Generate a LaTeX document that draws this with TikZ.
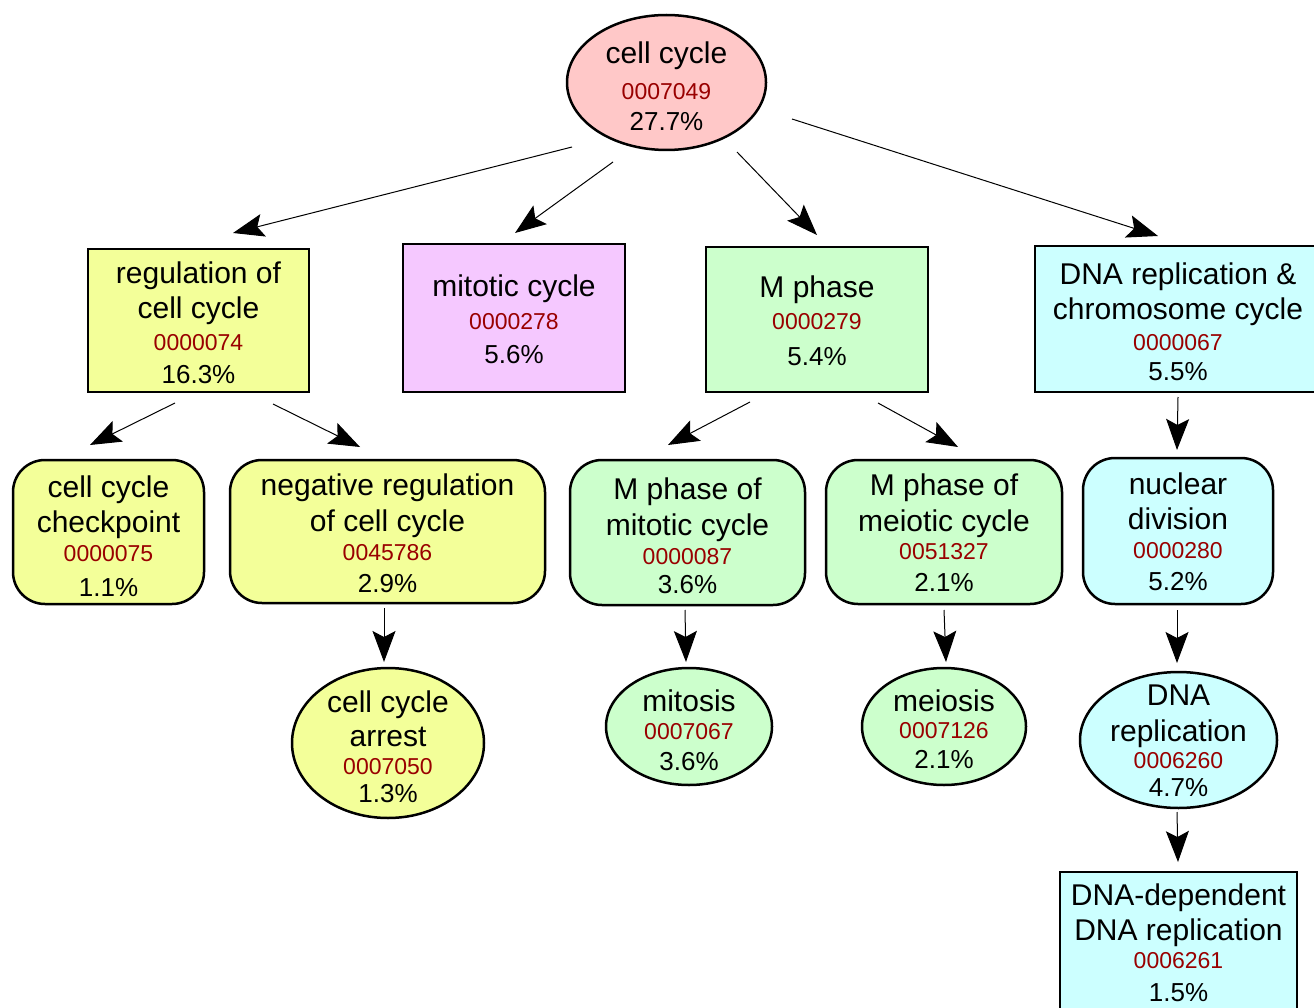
\documentclass[tikz,border=0pt]{standalone}
\usepackage{fontspec}
\setmainfont{Liberation Sans}
\usetikzlibrary{shapes.geometric,arrows.meta,calc}
\definecolor{pinkc}{HTML}{FFC8C8}
\definecolor{yellowc}{HTML}{F3FF99}
\definecolor{violetc}{HTML}{F5C8FF}
\definecolor{greenc}{HTML}{CCFFCC}
\definecolor{cyanc}{HTML}{CCFFFF}
\definecolor{idcol}{HTML}{990000}
\newcommand\idf{\fontsize{23}{28}\selectfont\color{idcol}}
\newcommand\pcf{\fontsize{26}{30}\selectfont}
\newcommand\zbox[2]{\smash{\makebox[0pt]{\raisebox{#1pt}{\begin{tabular}[t]{@{}c@{}}#2\end{tabular}}}}}
\tikzset{
  gonode/.style={draw=black, line width=2.5, inner sep=0pt, outer sep=0pt,
    font=\fontsize{30}{35}\selectfont},
  boxn/.style={gonode, rectangle},
  rboxn/.style={gonode, rectangle, rounded corners=32},
  elln/.style={gonode, ellipse},
  edge/.style={line width=1, draw=black,
    -{Stealth[length=31, width=23, inset=6]}},
}
\begin{document}
\begin{tikzpicture}[x=1pt, y=-1pt]
\useasboundingbox (0,0) rectangle (1314,1008);
% nodes
\node[elln, fill=pinkc, minimum width=199, minimum height=135] (cc) at (666.5,82.5)
  {\zbox{18.5}{cell cycle\\[1pt]{\idf 0007049}\\[-4pt]{\pcf 27.7\%}}};
\node[boxn, fill=yellowc, minimum width=221, minimum height=143] (reg) at (198.5,320.5)
  {\zbox{37.5}{regulation of\\cell cycle\\[-2.7pt]{\idf 0000074}\\[-1.8pt]{\pcf 16.3\%}}};
\node[boxn, fill=violetc, minimum width=222, minimum height=148] (mit) at (514,318)
  {\zbox{21}{mitotic cycle\\[-2.7pt]{\idf 0000278}\\[-0.8pt]{\pcf 5.6\%}}};
\node[boxn, fill=greenc, minimum width=222, minimum height=145] (mph) at (817,319.5)
  {\zbox{21.5}{M phase\\[-3.7pt]{\idf 0000279}\\[1.2pt]{\pcf 5.4\%}}};
\node[boxn, fill=cyanc, minimum width=286, minimum height=146] (dna) at (1178,319)
  {\zbox{34}{DNA replication \&\\chromosome cycle\\[-4.7pt]{\idf 0000067}\\[-4.8pt]{\pcf 5.5\%}}};
\node[rboxn, fill=yellowc, minimum width=191, minimum height=144] (chk) at (108.5,532)
  {\zbox{35}{cell cycle\\checkpoint\\[-5.7pt]{\idf 0000075}\\[0.2pt]{\pcf 1.1\%}}};
\node[rboxn, fill=yellowc, minimum width=315, minimum height=143] (neg) at (387.5,531.5)
  {\zbox{36.5}{negative regulation\\[1pt]of cell cycle\\[-5.7pt]{\idf 0045786}\\[-2.8pt]{\pcf 2.9\%}}};
\node[rboxn, fill=greenc, minimum width=235, minimum height=145] (mmit) at (687.5,532.5)
  {\zbox{33.5}{M phase of\\[1pt]mitotic cycle\\[-5.7pt]{\idf 0000087}\\[-6pt]{\pcf 3.6\%}}};
\node[rboxn, fill=greenc, minimum width=236, minimum height=144] (mmei) at (944,532)
  {\zbox{37}{M phase of\\[1pt]meiotic cycle\\[-6.7pt]{\idf 0051327}\\[-2.8pt]{\pcf 2.1\%}}};
\node[rboxn, fill=cyanc, minimum width=190, minimum height=146] (nuc) at (1178,531)
  {\zbox{37}{nuclear\\division\\[-5.7pt]{\idf 0000280}\\[-2.8pt]{\pcf 5.2\%}}};
\node[elln, fill=yellowc, minimum width=192, minimum height=150] (arr) at (388,743)
  {\zbox{31}{cell cycle\\[-1pt]arrest\\[-6.7pt]{\idf 0007050}\\[-7pt]{\pcf 1.3\%}}};
\node[elln, fill=greenc, minimum width=166, minimum height=117] (mitosis) at (689,726.5)
  {\zbox{15.5}{mitosis\\[-6.7pt]{\idf 0007067}\\[-3.8pt]{\pcf 3.6\%}}};
\node[elln, fill=greenc, minimum width=164, minimum height=117] (meiosis) at (944,726.5)
  {\zbox{15.5}{meiosis\\[-7.7pt]{\idf 0007126}\\[-4.8pt]{\pcf 2.1\%}}};
\node[elln, fill=cyanc, minimum width=197, minimum height=136] (dnar) at (1178.5,740)
  {\zbox{35}{DNA\\[1pt]replication\\[-7.7pt]{\idf 0006260}\\[-7pt]{\pcf 4.7\%}}};
\node[boxn, fill=cyanc, minimum width=237, minimum height=140] (dd) at (1178.5,942)
  {\zbox{37}{DNA-dependent\\DNA replication\\[-6.7pt]{\idf 0006261}\\[-1.8pt]{\pcf 1.5\%}}};
% edges
\draw[edge] ($(cc)+(-94.5,64.5)$) -- ($(reg)+(34.5,-87.5)$);
\draw[edge] ($(cc)+(-53.5,79.5)$) -- ($(mit)+(1,-85)$);
\draw[edge] ($(cc)+(70.5,69.5)$) -- ($(mph)+(0,-84.5)$);
\draw[edge] ($(cc)+(125.5,36.5)$) -- ($(dna)+(-20,-83)$);
\draw[edge] ($(reg)+(-23.5,82.5)$) -- ($(chk)+(-18.5,-87)$);
\draw[edge] ($(reg)+(74.5,83.5)$) -- ($(neg)+(-27.5,-84.5)$);
\draw[edge] ($(neg)+(-3.5,76.5)$) -- ($(arr)+(-4,-81)$);
\draw[edge] ($(mph)+(-67,82.5)$) -- ($(mmit)+(-19.5,-87.5)$);
\draw[edge] ($(mph)+(61,83.5)$) -- ($(mmei)+(14,-85)$);
\draw[edge] ($(mmit)+(-2.5,77.5)$) -- ($(mitosis)+(-3,-64.5)$);
\draw[edge] ($(mmei)+(0,78)$) -- ($(meiosis)+(2,-64.5)$);
\draw[edge] ($(dna)+(0,78)$) -- ($(nuc)+(-1,-81)$);
\draw[edge] ($(nuc)+(-1,79)$) -- ($(dnar)+(-1.5,-77)$);
\draw[edge] ($(dnar)+(-1.5,72)$) -- ($(dd)+(-0.5,-80)$);
\end{tikzpicture}
\end{document}
